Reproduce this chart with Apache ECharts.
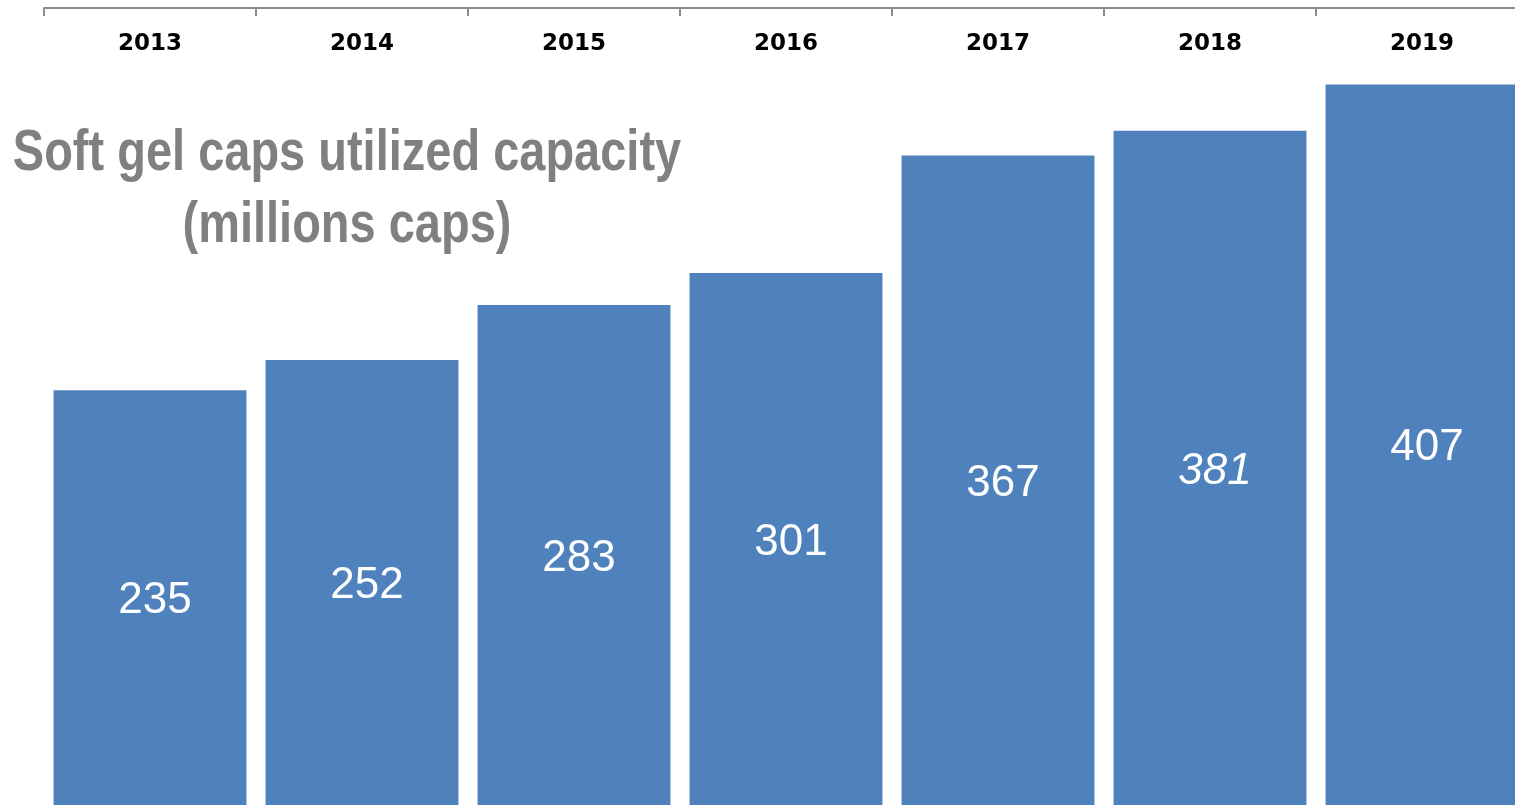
<!DOCTYPE html>
<html>
<head>
<meta charset="utf-8">
<script src="https://cdn.jsdelivr.net/npm/echarts@6/dist/echarts.min.js"></script>
<style>
html,body{margin:0;padding:0;background:#fff;}
#chart{width:1515px;height:805px;}
</style>
</head>
<body>
<div id="chart"></div>
<script>
var years = ['2013','2014','2015','2016','2017','2018','2019'];
var capacity = [235, 252, 283, 301, 367, 381, 407];
var italicYears = ['2018'];
var titleText = 'Soft gel caps utilized capacity\n(millions caps)';

var chart = echarts.init(document.getElementById('chart'));
var seriesData = capacity.map(function(v, i){
  var item = {value: v};
  if (italicYears.indexOf(years[i]) >= 0) item.label = {fontStyle: 'italic'};
  return item;
});
chart.setOption({
  animation: false,
  grid: {left: 44, top: 8, width: 1484, height: 800, containLabel: false, outerBoundsMode: 'none'},
  xAxis: {
    type: 'category',
    data: years,
    position: 'top',
    axisLine: {show: true, onZero: false, lineStyle: {color: '#8c8c8c', width: 2}},
    axisTick: {show: true, inside: true, length: 8, lineStyle: {color: '#8c8c8c', width: 2}},
    axisLabel: {inside: true, margin: 25, color: '#000', fontSize: 23, fontWeight: 'bold', fontFamily: 'DejaVu Sans'}
  },
  yAxis: {type: 'value', min: 0, max: 450, show: false, splitLine: {show: false}},
  graphic: [{
    type: 'text',
    x: 347, y: 118,
    scaleX: 0.81,
    style: {
      text: titleText,
      textAlign: 'center',
      textVerticalAlign: 'top',
      fill: '#808080',
      font: 'bold 58px "Liberation Sans", sans-serif',
      lineHeight: 72
    }
  }],
  series: [{
    type: 'bar',
    data: seriesData,
    barCategoryGap: '9%',
    itemStyle: {color: '#4F81BD'},
    label: {
      show: true,
      position: 'inside',
      offset: [5, 2],
      color: '#fff',
      fontSize: 44,
      fontFamily: 'Liberation Sans'
    }
  }]
});
</script>
</body>
</html>
